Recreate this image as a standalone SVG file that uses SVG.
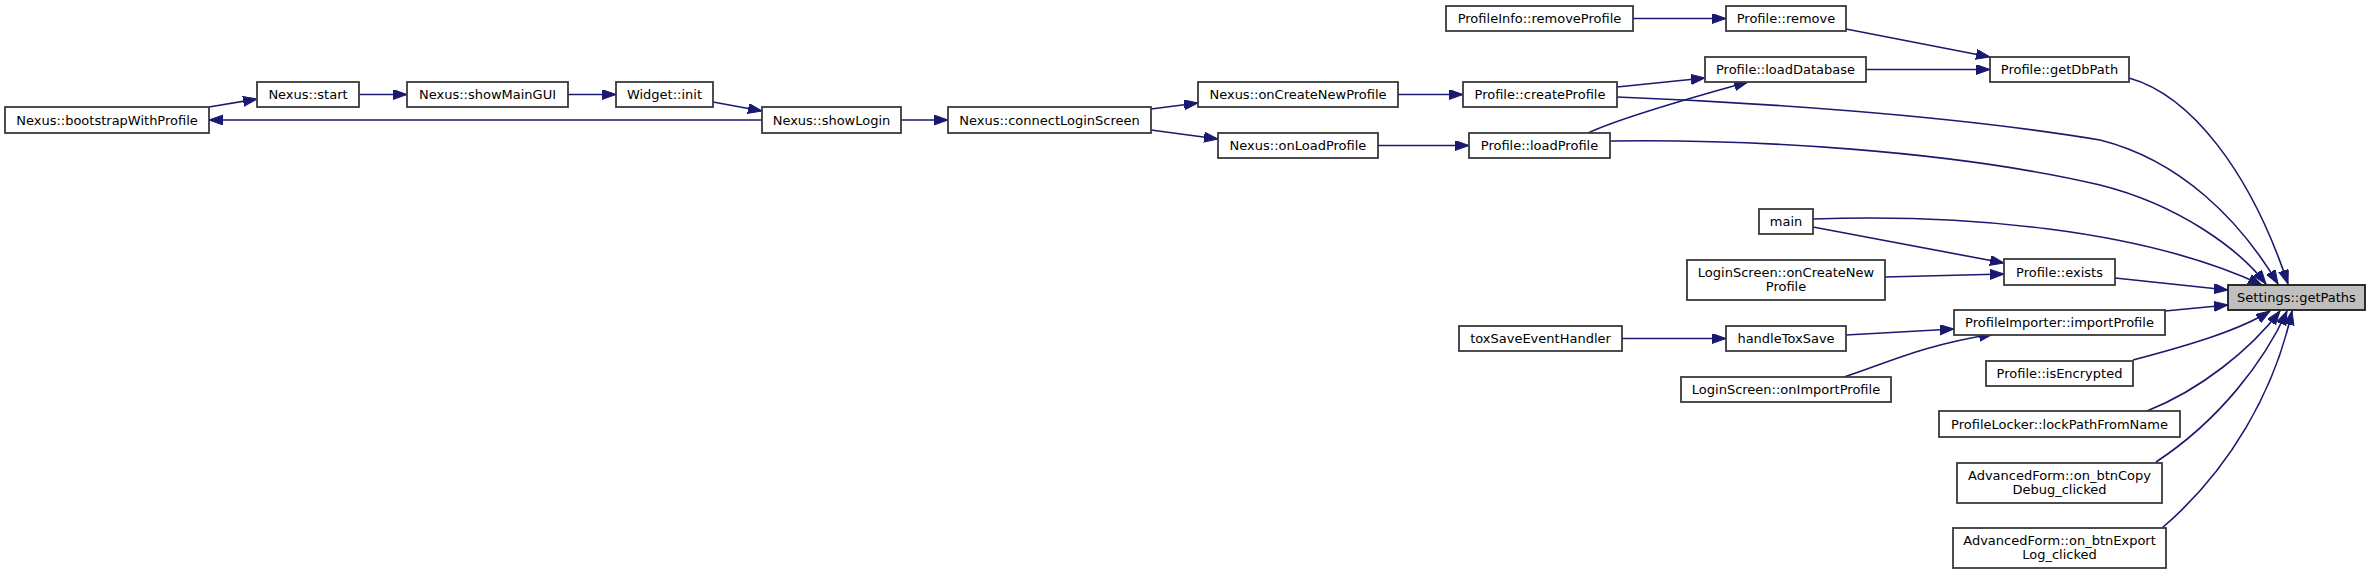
<svg xmlns="http://www.w3.org/2000/svg" width="2371" height="574" viewBox="0 0 2371 574">
<style>
.n rect{fill:#ffffff;stroke:#3a3a3a;stroke-width:1.8}
.root rect{fill:#bfbfbf;stroke:#1a1a1a;stroke-width:1.8}
text{font-family:"DejaVu Sans",sans-serif;font-size:13px;fill:#000;text-anchor:middle}
.e path{fill:none;stroke:#191970;stroke-width:1.6;marker-end:url(#ah)}
</style>
<defs>
<marker id="ah" markerUnits="userSpaceOnUse" markerWidth="15" markerHeight="11" refX="14" refY="5" orient="auto">
<path d="M0,0 L14,5 L0,10 z" fill="#191970" stroke="#191970" stroke-width="1"/>
</marker>
</defs>
<rect width="2371" height="574" fill="#ffffff"/>
<g id="connectors" class="e">
<path d="M209,107 L257,99"/>
<path d="M359,94.5 L407,94.5"/>
<path d="M568,94.5 L616,94.5"/>
<path d="M713,102 L762,111"/>
<path d="M762,120 L209,120"/>
<path d="M901,120 L948,120"/>
<path d="M1151,109 L1198,103"/>
<path d="M1151,130 L1218,139"/>
<path d="M1398,94.5 L1463,94.5"/>
<path d="M1378,145.5 L1469,145.5"/>
<path d="M1633,18.5 L1726,18.5"/>
<path d="M1846,29 L1990,57"/>
<path d="M1866,69.5 L1990,69.5"/>
<path d="M1617,87 L1705,78"/>
<path d="M1588,133 C1620,118 1690,98 1748,82"/>
<path d="M1617,97 C1750,102 1950,115 2100,140 C2180,160 2240,220 2278,284"/>
<path d="M1610,141 C1750,139 1950,150 2100,185 C2180,205 2240,250 2266,284"/>
<path d="M2129,78 C2190,95 2250,170 2288,284"/>
<path d="M1813,219 C1960,214 2140,228 2262,285"/>
<path d="M1813,227 L2004,263"/>
<path d="M1885,277 L2004,274"/>
<path d="M2115,278 L2228,290"/>
<path d="M2165,311 L2228,305"/>
<path d="M1622,338.5 L1726,338.5"/>
<path d="M1846,335 L1954,329"/>
<path d="M1844,377 C1890,362 1920,346 1993,334"/>
<path d="M2133,360 C2190,345 2240,330 2270,311"/>
<path d="M2147,411 C2200,390 2250,350 2280,311"/>
<path d="M2156,462 C2220,420 2265,360 2287,311"/>
<path d="M2162,528 C2230,470 2275,390 2292,311"/>
</g>
<g id="n_bootstrap" class="n"><rect x="5" y="107" width="204" height="26"/><text x="107" y="124.5">Nexus::bootstrapWithProfile</text></g>
<g id="n_start" class="n"><rect x="257" y="82" width="102" height="25"/><text x="308" y="99">Nexus::start</text></g>
<g id="n_showMainGUI" class="n"><rect x="407" y="82" width="161" height="25"/><text x="487.5" y="99">Nexus::showMainGUI</text></g>
<g id="n_widget_init" class="n"><rect x="616" y="82" width="97" height="25"/><text x="664.5" y="99">Widget::init</text></g>
<g id="n_showLogin" class="n"><rect x="762" y="107" width="139" height="26"/><text x="831.5" y="124.5">Nexus::showLogin</text></g>
<g id="n_connectLoginScreen" class="n"><rect x="948" y="107" width="203" height="26"/><text x="1049.5" y="124.5">Nexus::connectLoginScreen</text></g>
<g id="n_onCreateNewProfile" class="n"><rect x="1198" y="82" width="200" height="25"/><text x="1298" y="99">Nexus::onCreateNewProfile</text></g>
<g id="n_onLoadProfile" class="n"><rect x="1218" y="133" width="160" height="25"/><text x="1298" y="150">Nexus::onLoadProfile</text></g>
<g id="n_createProfile" class="n"><rect x="1463" y="82" width="154" height="25"/><text x="1540" y="99">Profile::createProfile</text></g>
<g id="n_loadProfile" class="n"><rect x="1469" y="133" width="141" height="25"/><text x="1539.5" y="150">Profile::loadProfile</text></g>
<g id="n_removeProfile" class="n"><rect x="1446" y="6" width="187" height="25"/><text x="1539.5" y="23">ProfileInfo::removeProfile</text></g>
<g id="n_remove" class="n"><rect x="1726" y="6" width="120" height="25"/><text x="1786" y="23">Profile::remove</text></g>
<g id="n_loadDatabase" class="n"><rect x="1705" y="57" width="161" height="25"/><text x="1785.5" y="74">Profile::loadDatabase</text></g>
<g id="n_getDbPath" class="n"><rect x="1990" y="57" width="139" height="25"/><text x="2059.5" y="74">Profile::getDbPath</text></g>
<g id="n_main" class="n"><rect x="1759" y="209" width="54" height="25"/><text x="1786" y="226">main</text></g>
<g id="n_ls_onCreateNewProfile" class="n"><rect x="1687" y="260" width="198" height="40"/><text x="1786" y="276.5">LoginScreen::onCreateNew</text><text x="1786" y="291">Profile</text></g>
<g id="n_exists" class="n"><rect x="2004" y="259" width="111" height="26"/><text x="2059.5" y="276.5">Profile::exists</text></g>
<g id="n_getPaths" class="root"><rect x="2228" y="285" width="137" height="25"/><text x="2296.5" y="302">Settings::getPaths</text></g>
<g id="n_importProfile" class="n"><rect x="1954" y="310" width="211" height="25"/><text x="2059.5" y="327">ProfileImporter::importProfile</text></g>
<g id="n_toxSaveEventHandler" class="n"><rect x="1459" y="326" width="163" height="25"/><text x="1540.5" y="343">toxSaveEventHandler</text></g>
<g id="n_handleToxSave" class="n"><rect x="1726" y="326" width="120" height="25"/><text x="1786" y="343">handleToxSave</text></g>
<g id="n_isEncrypted" class="n"><rect x="1986" y="361" width="147" height="25"/><text x="2059.5" y="378">Profile::isEncrypted</text></g>
<g id="n_ls_onImportProfile" class="n"><rect x="1681" y="377" width="210" height="25"/><text x="1786" y="394">LoginScreen::onImportProfile</text></g>
<g id="n_lockPathFromName" class="n"><rect x="1939" y="411" width="241" height="26"/><text x="2059.5" y="428.5">ProfileLocker::lockPathFromName</text></g>
<g id="n_copyDebug" class="n"><rect x="1957" y="463" width="205" height="40"/><text x="2059.5" y="479.5">AdvancedForm::on_btnCopy</text><text x="2059.5" y="494">Debug_clicked</text></g>
<g id="n_exportLog" class="n"><rect x="1953" y="528" width="213" height="40"/><text x="2059.5" y="544.5">AdvancedForm::on_btnExport</text><text x="2059.5" y="559">Log_clicked</text></g>
</svg>
